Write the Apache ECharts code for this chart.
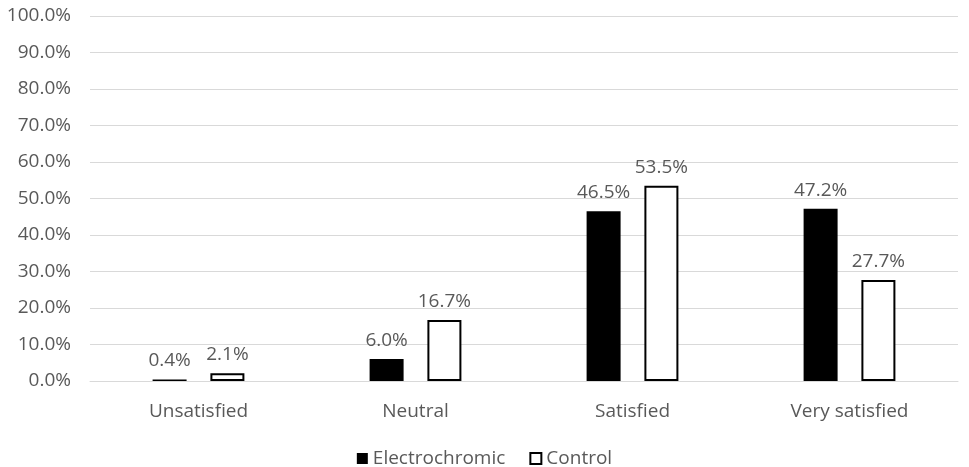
<!DOCTYPE html>
<html>
<head>
<meta charset="utf-8">
<script src="https://cdn.jsdelivr.net/npm/echarts@6/dist/echarts.min.js"></script>
<style>
html,body{margin:0;padding:0;background:#fff;}
#chart{width:969px;height:467px;}
</style>
</head>
<body>
<div id="chart"></div>
<script>
const categories = ['Unsatisfied', 'Neutral', 'Satisfied', 'Very satisfied'];
const electrochromic = [0.4, 6.0, 46.5, 47.2];
const control = [2.1, 16.7, 53.5, 27.7];
const seriesNames = ['Electrochromic', 'Control'];

const FONT = 'Open Sans';
const TXT = '#595959';
const chart = echarts.init(document.getElementById('chart'));
const labelCfg = {
  show: true, position: 'top', distance: 9,
  color: TXT, fontFamily: FONT, fontSize: 19,
  formatter: p => p.value.toFixed(1) + '%'
};
chart.setOption({
  animation: false,
  backgroundColor: '#ffffff',
  grid: { left: 90, right: 11, top: 16, bottom: 86 },
  legend: {
    top: 444, left: 'center',
    itemWidth: 11, itemHeight: 11, itemGap: 24,
    icon: 'rect',
    textStyle: { color: TXT, fontFamily: FONT, fontSize: 19 },
    data: seriesNames
  },
  xAxis: {
    type: 'category', data: categories,
    axisLine: { show: true, lineStyle: { color: '#d9d9d9', width: 1 } },
    axisTick: { show: false },
    axisLabel: { color: TXT, fontFamily: FONT, fontSize: 19, margin: 21 }
  },
  yAxis: {
    type: 'value', min: 0, max: 100, interval: 10,
    axisLine: { show: false }, axisTick: { show: false },
    splitLine: { lineStyle: { color: '#d9d9d9', width: 1 } },
    axisLabel: { color: TXT, fontFamily: FONT, fontSize: 19, margin: 19,
      formatter: v => v.toFixed(1) + '%' }
  },
  series: [
    { name: seriesNames[0], type: 'bar', data: electrochromic, barWidth: 34, barGap: '70%',
      itemStyle: { color: '#000000' }, label: labelCfg },
    { name: seriesNames[1], type: 'bar', data: control, barWidth: 34,
      itemStyle: { color: '#ffffff', borderColor: '#000000', borderWidth: 2 }, label: labelCfg }
  ]
});
</script>
</body>
</html>
